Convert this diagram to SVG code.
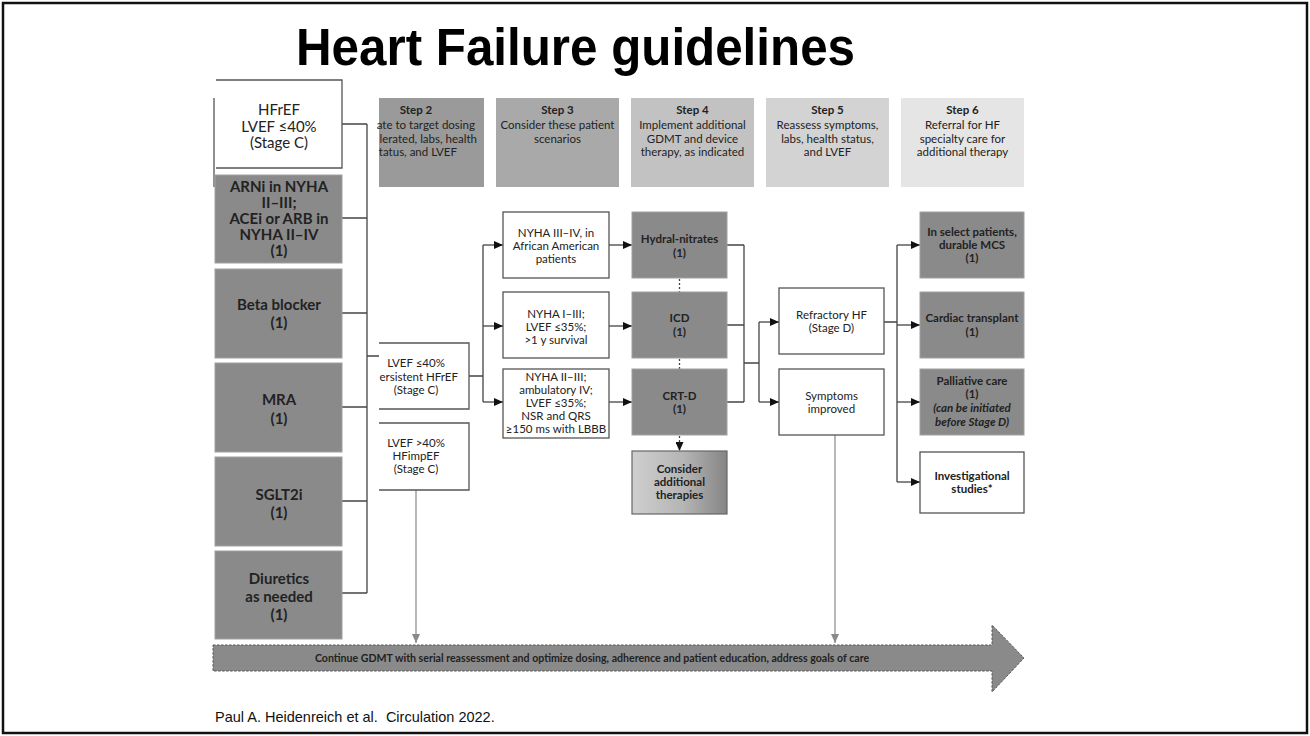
<svg xmlns="http://www.w3.org/2000/svg" width="1310" height="736" viewBox="0 0 1310 736">
  <style>
    .t { font-family: Lato, "Open Sans", "Liberation Sans", sans-serif; fill: #222; text-anchor: middle; }
    .b { font-weight: bold; }
    .step { font-size: 11.5px; }
    .mid { font-size: 11.5px; }
    .left { font-size: 15px; }
    .dark { fill: #8a8a8a; stroke: #a0a0a0; stroke-width: 1; }
    .white { fill: #fff; stroke: #555; stroke-width: 1.3; }
    .open { fill: none; stroke: #555; stroke-width: 1.3; }
    .con { fill: none; stroke: #444; stroke-width: 1.3; }
    .arr { marker-end: url(#ah); }
    .dot { fill: none; stroke: #444; stroke-width: 1.3; stroke-dasharray: 2 2; }
    .grey { fill: none; stroke: #a6a6a6; stroke-width: 1.6; marker-end: url(#ahg); }
  </style>
  <defs>
    <marker id="ah" markerUnits="userSpaceOnUse" markerWidth="9" markerHeight="8" refX="9" refY="4" orient="auto">
      <path d="M0,0 L9,4 L0,8 z" fill="#111"/>
    </marker>
    <marker id="ahg" markerUnits="userSpaceOnUse" markerWidth="9" markerHeight="8" refX="9" refY="4" orient="auto">
      <path d="M0,0 L9,4 L0,8 z" fill="#8a8a8a"/>
    </marker>
    <linearGradient id="fade" x1="0" y1="0" x2="1" y2="0">
      <stop offset="0" stop-color="#cfcfcf"/>
      <stop offset="0.55" stop-color="#b4b4b4"/>
      <stop offset="1" stop-color="#858585"/>
    </linearGradient>
  </defs>

  <!-- slide frame -->
  <rect x="3" y="3" width="1304" height="730" fill="#fff" stroke="#111" stroke-width="2.5"/>

  <text x="296" y="65" font-family="'Liberation Sans', Arial, sans-serif" font-size="51" font-weight="bold" fill="#000" textLength="559" lengthAdjust="spacingAndGlyphs">Heart Failure guidelines</text>

  <!-- step headers -->
  <g id="step2">
    <rect x="379" y="98" width="105" height="89" fill="#9a9a9a"/>
    <text class="t b step" x="416" y="114">Step 2</text>
    <text class="t step" x="475" y="129" style="text-anchor:end">ate to target dosing</text>
    <text class="t step" x="477" y="143" style="text-anchor:end">lerated, labs, health</text>
    <text class="t step" x="457" y="156" style="text-anchor:end">tatus, and LVEF</text>
  </g>
  <g id="step3">
    <rect x="496" y="98" width="123" height="89" fill="#a9a9a9"/>
    <text class="t b step" x="557.5" y="114">Step 3</text>
    <text class="t step" x="557.5" y="129">Consider these patient</text>
    <text class="t step" x="557.5" y="143">scenarios</text>
  </g>
  <g id="step4">
    <rect x="631" y="98" width="123" height="89" fill="#c2c2c2"/>
    <text class="t b step" x="692.5" y="114">Step 4</text>
    <text class="t step" x="692.5" y="129">Implement additional</text>
    <text class="t step" x="692.5" y="143">GDMT and device</text>
    <text class="t step" x="692.5" y="156">therapy, as indicated</text>
  </g>
  <g id="step5">
    <rect x="766" y="98" width="123" height="89" fill="#d3d3d3"/>
    <text class="t b step" x="827.5" y="114">Step 5</text>
    <text class="t step" x="827.5" y="129">Reassess symptoms,</text>
    <text class="t step" x="827.5" y="143">labs, health status,</text>
    <text class="t step" x="827.5" y="156">and LVEF</text>
  </g>
  <g id="step6">
    <rect x="901" y="98" width="123" height="89" fill="#e5e5e5"/>
    <text class="t b step" x="962.5" y="114">Step 6</text>
    <text class="t step" x="962.5" y="129">Referral for HF</text>
    <text class="t step" x="962.5" y="143">specialty care for</text>
    <text class="t step" x="962.5" y="156">additional therapy</text>
  </g>

  <!-- connectors -->
  <g id="connectors">
    <path class="con" d="M342,124 H367 M342,218 H367 M342,313 H367 M342,407 H367 M342,501 H367 M342,593 H367 M367,124 V593 M367,356 H379"/>
    <path class="con" d="M469,376 H483 M483,245 V402"/>
    <path class="con arr" d="M483,245 H503"/>
    <path class="con arr" d="M483,326 H503"/>
    <path class="con arr" d="M483,402 H503"/>
    <path class="con arr" d="M609,245 H632"/>
    <path class="con arr" d="M609,326 H632"/>
    <path class="con arr" d="M609,402 H632"/>
    <path class="dot" d="M679.5,279 V292 M679.5,359 V369"/>
    <path class="dot arr" d="M679.5,436 V451"/>
    <path class="con" d="M727,245 H744 M727,325 H744 M727,402 H744 M744,245 V402 M744,363 H759 M759,322 V402"/>
    <path class="con arr" d="M759,322 H779"/>
    <path class="con arr" d="M759,402 H779"/>
    <path class="con" d="M884,322 H897 M897,245 V482"/>
    <path class="con arr" d="M897,245 H920"/>
    <path class="con arr" d="M897,325 H920"/>
    <path class="con arr" d="M897,402 H920"/>
    <path class="con arr" d="M897,482 H920"/>
    <path class="grey" d="M416,490 V643"/>
    <path class="grey" d="M835,435 V643"/>
  </g>

  <!-- left column -->
  <g id="hfref">
    <path class="open" d="M216,80 H342 V168 H216 M214,98 V187"/>
    <text class="t left" x="279" y="115" font-size="14.5">HFrEF</text>
    <text class="t left" x="279" y="131.5" font-size="14.5">LVEF ≤40%</text>
    <text class="t left" x="279" y="148" font-size="14.5">(Stage C)</text>
  </g>
  <g id="arni">
    <rect class="dark" x="215" y="175" width="127" height="88"/>
    <text class="t b left" x="279" y="192">ARNi in NYHA</text>
    <text class="t b left" x="279" y="208">II–III;</text>
    <text class="t b left" x="279" y="224">ACEi or ARB in</text>
    <text class="t b left" x="279" y="240">NYHA II–IV</text>
    <text class="t b left" x="279" y="256">(1)</text>
  </g>
  <g id="beta">
    <rect class="dark" x="215" y="269" width="127" height="89"/>
    <text class="t b left" x="279" y="310">Beta blocker</text>
    <text class="t b left" x="279" y="328">(1)</text>
  </g>
  <g id="mra">
    <rect class="dark" x="215" y="363" width="127" height="89"/>
    <text class="t b left" x="279" y="405" font-size="16">MRA</text>
    <text class="t b left" x="279" y="424">(1)</text>
  </g>
  <g id="sglt2i">
    <rect class="dark" x="215" y="457" width="127" height="89"/>
    <text class="t b left" x="279" y="500" font-size="16">SGLT2i</text>
    <text class="t b left" x="279" y="518">(1)</text>
  </g>
  <g id="diuretics">
    <rect class="dark" x="215" y="551" width="127" height="88"/>
    <text class="t b left" x="279" y="584" font-size="16">Diuretics</text>
    <text class="t b left" x="279" y="602" font-size="16">as needed</text>
    <text class="t b left" x="279" y="620">(1)</text>
  </g>

  <!-- LVEF groups -->
  <g id="lvef-low">
    <path class="open" d="M379,343 H469 V409 H379"/>
    <text class="t mid" x="416" y="367">LVEF ≤40%</text>
    <text class="t mid" x="458" y="381" style="text-anchor:end">ersistent HFrEF</text>
    <text class="t mid" x="416" y="394">(Stage C)</text>
  </g>
  <g id="lvef-high">
    <path class="open" d="M379,423 H469 V490 H379"/>
    <text class="t mid" x="416" y="447">LVEF &gt;40%</text>
    <text class="t mid" x="416" y="460">HFimpEF</text>
    <text class="t mid" x="416" y="473">(Stage C)</text>
  </g>

  <!-- patient scenarios -->
  <g id="scenario-aa">
    <rect class="white" x="503" y="212" width="106" height="66"/>
    <text class="t mid" x="556" y="237">NYHA III–IV, in</text>
    <text class="t mid" x="556" y="250">African American</text>
    <text class="t mid" x="556" y="263">patients</text>
  </g>
  <g id="scenario-icd">
    <rect class="white" x="503" y="292" width="106" height="66"/>
    <text class="t mid" x="556" y="318">NYHA I–III;</text>
    <text class="t mid" x="556" y="331">LVEF ≤35%;</text>
    <text class="t mid" x="556" y="344">&gt;1 y survival</text>
  </g>
  <g id="scenario-crt">
    <rect class="white" x="503" y="369" width="106" height="69"/>
    <text class="t mid" x="556" y="381">NYHA II–III;</text>
    <text class="t mid" x="556" y="394">ambulatory IV;</text>
    <text class="t mid" x="556" y="407">LVEF ≤35%;</text>
    <text class="t mid" x="556" y="420">NSR and QRS</text>
    <text class="t mid" x="556" y="433">≥150 ms with LBBB</text>
  </g>

  <!-- step 4 therapies -->
  <g id="hydral">
    <rect class="dark" x="632" y="212" width="95" height="66"/>
    <text class="t b mid" x="679.5" y="243">Hydral-nitrates</text>
    <text class="t b mid" x="679.5" y="257">(1)</text>
  </g>
  <g id="icd">
    <rect class="dark" x="632" y="292" width="95" height="66"/>
    <text class="t b mid" x="679.5" y="322">ICD</text>
    <text class="t b mid" x="679.5" y="336">(1)</text>
  </g>
  <g id="crtd">
    <rect class="dark" x="632" y="369" width="95" height="66"/>
    <text class="t b mid" x="679.5" y="400">CRT-D</text>
    <text class="t b mid" x="679.5" y="413">(1)</text>
  </g>
  <g id="additional">
    <rect x="632" y="451" width="95" height="63" fill="url(#fade)" stroke="#666" stroke-width="1.2"/>
    <text class="t b mid" x="679.5" y="473">Consider</text>
    <text class="t b mid" x="679.5" y="486">additional</text>
    <text class="t b mid" x="679.5" y="499">therapies</text>
  </g>

  <!-- step 5 -->
  <g id="refractory">
    <rect class="white" x="779" y="288" width="105" height="66"/>
    <text class="t mid" x="831.5" y="319">Refractory HF</text>
    <text class="t mid" x="831.5" y="332">(Stage D)</text>
  </g>
  <g id="improved">
    <rect class="white" x="779" y="369" width="105" height="66"/>
    <text class="t mid" x="831.5" y="400">Symptoms</text>
    <text class="t mid" x="831.5" y="413">improved</text>
  </g>

  <!-- step 6 -->
  <g id="mcs">
    <rect class="dark" x="920" y="212" width="104" height="66"/>
    <text class="t b mid" x="972" y="236">In select patients,</text>
    <text class="t b mid" x="972" y="249">durable MCS</text>
    <text class="t b mid" x="972" y="262">(1)</text>
  </g>
  <g id="transplant">
    <rect class="dark" x="920" y="292" width="104" height="66"/>
    <text class="t b mid" x="972" y="322">Cardiac transplant</text>
    <text class="t b mid" x="972" y="336">(1)</text>
  </g>
  <g id="palliative">
    <rect class="dark" x="920" y="369" width="104" height="66"/>
    <text class="t b mid" x="972" y="385">Palliative care</text>
    <text class="t b mid" x="972" y="398">(1)</text>
    <text class="t b mid" x="972" y="412" font-style="italic">(can be initiated</text>
    <text class="t b mid" x="972" y="426" font-style="italic">before Stage D)</text>
  </g>
  <g id="investigational">
    <rect class="white" x="920" y="452" width="104" height="61"/>
    <text class="t b mid" x="972" y="480">Investigational</text>
    <text class="t b mid" x="972" y="493">studies*</text>
  </g>

  <!-- continuous care arrow -->
  <g id="continue">
    <path d="M213,645 H992 V625 L1024,658 L992,692 V671 H213 Z" fill="#8a8a8a" stroke="#555" stroke-width="1" stroke-dasharray="2.5 1.5"/>
    <text class="t b" x="592" y="662" font-size="10.6">Continue GDMT with serial reassessment and optimize dosing, adherence and patient education, address goals of care</text>
  </g>

  <text x="215" y="722" font-family="'Liberation Sans', Arial, sans-serif" font-size="14.5" fill="#111" xml:space="preserve">Paul A. Heidenreich et al.  Circulation 2022.</text>
</svg>
